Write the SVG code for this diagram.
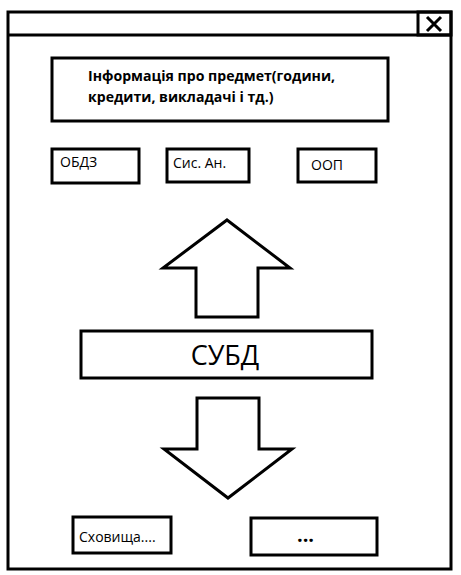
<svg xmlns="http://www.w3.org/2000/svg" width="461" height="575" viewBox="0 0 461 575">
<style>
.b{fill:none;stroke:#000;stroke-width:3}
.w{fill:#fff;stroke:#000;stroke-width:3}
.t{font-family:"Open Sans","Noto Sans","DejaVu Sans",sans-serif;fill:#000}
.s{font-size:14px}
</style>
<rect width="461" height="575" fill="#fff"/>
<g id="window">
<rect class="b" x="8" y="12" width="443" height="557"/>
<line class="b" x1="8" y1="35" x2="451" y2="35"/>
<rect class="b" x="418" y="12" width="33" height="23"/>
<path d="M427 17 L441 31 M441 17 L427 31" stroke="#000" stroke-width="3" fill="none"/>
</g>
<g id="info">
<rect class="b" x="52" y="58" width="336" height="63"/>
<text class="t" x="88" y="81" font-size="14.1" font-weight="bold">Інформація про предмет(години,</text>
<text class="t" x="88" y="102" font-size="14.1" font-weight="bold">кредити, викладачі і тд.)</text>
</g>
<g id="obdz">
<rect class="b" x="52" y="149" width="87" height="34"/>
<text class="t s" x="60" y="167">ОБДЗ</text>
</g>
<g id="sysan">
<rect class="b" x="167" y="149" width="82" height="33"/>
<text class="t s" x="173" y="168">Сис. Ан.</text>
</g>
<g id="oop">
<rect class="b" x="298" y="149" width="78" height="33"/>
<text class="t s" x="311" y="170">ООП</text>
</g>
<g id="connectors">
<polygon class="w" points="227,220 290,268 258,268 258,317 196,317 196,268 163,268"/>
<polygon class="w" points="197,398 259,398 259,449 292,449 228,498 164,449 197,449"/>
</g>
<g id="subd">
<rect class="b" x="81" y="331" width="291" height="47"/>
<text class="t" x="225" y="365" font-size="27" text-anchor="middle">СУБД</text>
</g>
<g id="storage">
<rect class="b" x="73" y="517" width="98" height="36"/>
<text class="t s" x="79" y="542">Сховища....</text>
</g>
<g id="more">
<rect class="b" x="251" y="518" width="126" height="37"/>
<text class="t" x="305.5" y="542" font-size="20" font-weight="bold" text-anchor="middle">...</text>
</g>
</svg>
